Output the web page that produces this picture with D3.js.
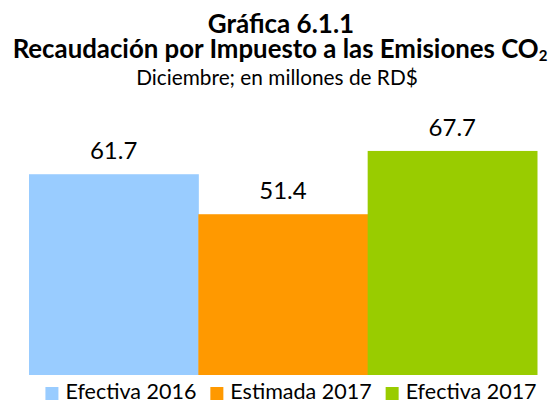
<!DOCTYPE html>
<html>
<head>
<meta charset="utf-8">
<script src="https://cdn.jsdelivr.net/npm/d3@7/dist/d3.min.js"></script>
<style>
  html, body { margin: 0; padding: 0; background: #fff; }
  svg { display: block; }
  text { font-family: Lato, "Open Sans", sans-serif; fill: #000; }
</style>
</head>
<body>
<svg id="chart" width="555" height="402"></svg>
<script>
// Recaudación por Impuesto a las Emisiones CO2, diciembre (millones de RD$)
const categories = ["Efectiva 2016", "Estimada 2017", "Efectiva 2017"];
const values = [61.7, 51.4, 67.7];
const colors = ["#99CCFF", "#FF9900", "#99CC00"];
const titleLines = ["Gráfica 6.1.1", "Recaudación por Impuesto a las Emisiones CO", "Diciembre; en millones de RD$"];
const yDomain = [10, 70];

const svg = d3.select("#chart");
const W = 555, H = 402;

// Title block
const title = svg.append("g").attr("text-anchor", "middle");
title.append("text")
  .attr("x", 281).attr("y", 33)
  .style("font-weight", "bold").style("font-size", "26px")
  .text(titleLines[0]);
const t2 = title.append("text")
  .attr("x", 280).attr("y", 57.5)
  .style("font-weight", "bold").style("font-size", "25.8px");
t2.append("tspan").text(titleLines[1]);
t2.append("tspan").attr("dy", 3).style("font-size", "15px").text("2");
title.append("text")
  .attr("x", 277).attr("y", 85)
  .style("font-size", "20.8px")
  .text(titleLines[2]);

// Scales
const x = d3.scaleBand().domain(categories).range([29, 537]).padding(0);
const y = d3.scaleLinear().domain(yDomain).range([375, 142]);

// Bars
svg.append("g").selectAll("rect")
  .data(values)
  .join("rect")
  .attr("x", (d, i) => x(categories[i]))
  .attr("width", x.bandwidth() + 0.5)
  .attr("y", d => y(d))
  .attr("height", d => y(yDomain[0]) - y(d))
  .attr("fill", (d, i) => colors[i]);

// Value labels
svg.append("g").attr("text-anchor", "middle").selectAll("text")
  .data(values)
  .join("text")
  .attr("x", (d, i) => x(categories[i]) + x.bandwidth() / 2)
  .attr("y", d => y(d) - 15)
  .style("font-size", "24px")
  .text(d => d.toFixed(1));

// Legend
const legend = svg.append("g");
const items = legend.selectAll("g")
  .data(categories)
  .join("g");
items.append("rect")
  .attr("width", 13).attr("height", 13)
  .attr("y", 387)
  .attr("fill", (d, i) => colors[i]);
items.append("text")
  .attr("x", 20).attr("y", 399)
  .style("font-size", "21.5px")
  .text(d => d);
// Lay out legend entries side by side, centred under the plot
const gap = 14;
const widths = items.nodes().map(n => n.querySelector("text").getComputedTextLength() + 20);
const total = d3.sum(widths) + gap * (widths.length - 1);
let cx = 291 - total / 2;
items.each(function(d, i) {
  d3.select(this).attr("transform", `translate(${cx},0)`);
  cx += widths[i] + gap;
});
</script>
</body>
</html>
